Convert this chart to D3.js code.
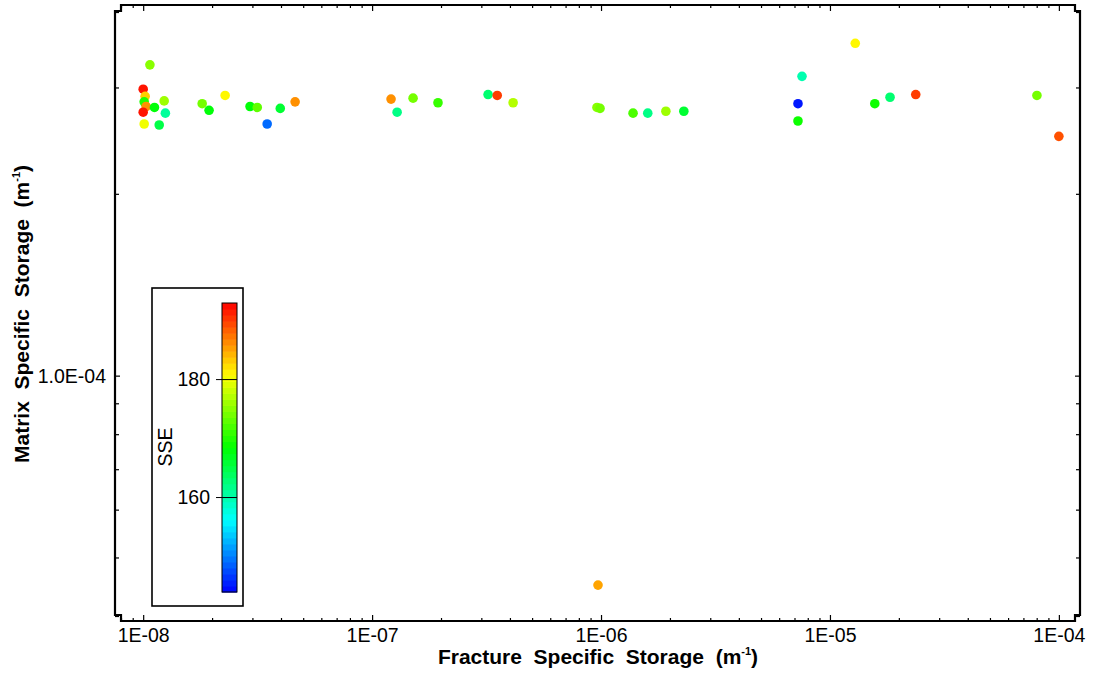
<!DOCTYPE html>
<html>
<head>
<meta charset="utf-8">
<script src="https://cdn.jsdelivr.net/npm/d3@7"></script>
<style>
  html, body { margin: 0; padding: 0; background: #fff; }
  svg { display: block; font-family: "Liberation Sans", Arial, sans-serif; }
</style>
</head>
<body>
<svg id="chart" width="1093" height="674"></svg>
<script>
// ---- data ----
const fractureSS = [1.07e-8, 1.0e-8, 1.02e-8, 1.01e-8, 1.03e-8, 1.12e-8, 1.0e-8, 1.235e-8, 1.25e-8, 1.01e-8, 1.175e-8,
  1.81e-8, 1.94e-8, 2.28e-8, 2.93e-8, 3.15e-8, 3.97e-8, 3.48e-8, 4.61e-8,
  1.21e-7, 1.286e-7, 1.51e-7, 1.94e-7, 3.21e-7, 3.52e-7, 4.13e-7,
  9.6e-7, 9.9e-7, 1.38e-6, 1.60e-6, 1.92e-6, 2.30e-6,
  1.29e-5, 7.55e-6, 7.25e-6, 7.25e-6, 1.57e-5, 1.83e-5, 2.37e-5, 8.02e-5, 1.0e-4, 9.7e-7];
const matrixSS = [3.27e-4, 2.98e-4, 2.90e-4, 2.84e-4, 2.79e-4, 2.78e-4, 2.73e-4, 2.85e-4, 2.72e-4, 2.61e-4, 2.60e-4,
  2.82e-4, 2.75e-4, 2.91e-4, 2.79e-4, 2.78e-4, 2.77e-4, 2.61e-4, 2.84e-4,
  2.87e-4, 2.73e-4, 2.88e-4, 2.83e-4, 2.92e-4, 2.91e-4, 2.83e-4,
  2.78e-4, 2.77e-4, 2.72e-4, 2.72e-4, 2.74e-4, 2.74e-4,
  3.55e-4, 3.13e-4, 2.82e-4, 2.64e-4, 2.82e-4, 2.89e-4, 2.92e-4, 2.91e-4, 2.49e-4, 4.50e-5];
const sse = [175, 192, 183, 170, 186, 168, 192, 176, 161, 180, 165,
  174, 168, 181, 168, 173, 166, 149, 186,
  186, 162, 174, 171, 163, 190, 177,
  175, 174, 172, 162, 176, 166,
  181, 160, 145, 169, 169, 163, 190, 174, 189, 185];

const xDomain = [8e-9, 1.2e-4];
const yDomain = [4e-5, 4e-4];
const sseDomain = [143.9, 192.9];
const sseTicks = [160, 180];
const xMajor = [1e-8, 1e-7, 1e-6, 1e-5, 1e-4];
const xMajorLabels = ["1E-08", "1E-07", "1E-06", "1E-05", "1E-04"];
const yMajor = [1e-4];
const yMajorLabels = ["1.0E-04"];
const xTitle = "Fracture  Specific  Storage  (m";
const yTitle = "Matrix  Specific  Storage  (m";
const legendTitle = "SSE";

// ---- scales ----
const svg = d3.select("#chart");
const x = d3.scaleLog().domain(xDomain).range([121, 1077]);
const y = d3.scaleLog().domain(yDomain).range([616, 12]);
const stops = d3.range(5).map(i => sseDomain[0] + i * (sseDomain[1] - sseDomain[0]) / 4);
const color = d3.scaleLinear().domain(stops)
  .range(["#0000ff", "#00ffff", "#00ff00", "#ffff00", "#ff0000"]).clamp(true);

function logTicks(dom) {
  const out = [];
  for (let k = -10; k <= -3; k++) {
    for (let m = 1; m <= 9; m++) {
      const v = +(m + "e" + k);
      if (v >= dom[0] * 0.999 && v <= dom[1] * 1.001) out.push(v);
    }
  }
  return out;
}
const xTickVals = logTicks(xDomain);
const yTickVals = logTicks(yDomain);
const isMajor = (v, majors) => majors.some(m => Math.abs(v / m - 1) < 1e-6);
const xLabel = v => { const i = xMajor.findIndex(m => Math.abs(v / m - 1) < 1e-6); return i >= 0 ? xMajorLabels[i] : ""; };
const yLabel = v => { const i = yMajor.findIndex(m => Math.abs(v / m - 1) < 1e-6); return i >= 0 ? yMajorLabels[i] : ""; };

// ---- axes ----
function styleAxis(g, majors, majorLen, minorLen, horizontal) {
  g.select(".domain").remove();
  g.selectAll(".tick line").attr("stroke", "#000").attr("stroke-width", 1.2)
    .each(function(d) {
      const len = isMajor(d, majors) ? majorLen : minorLen;
      if (horizontal) d3.select(this).attr("y2", len); else d3.select(this).attr("x2", len);
    });
  g.selectAll(".tick text").attr("fill", "#000").attr("font-size", 19.5);
}

const gB = svg.append("g").attr("transform", "translate(0,621)")
  .call(d3.axisBottom(x).tickValues(xTickVals).tickFormat(xLabel).tickSizeOuter(0));
styleAxis(gB, xMajor, -6, -3, true);
gB.selectAll(".tick text").attr("y", 21).attr("dy", 0);

const gT = svg.append("g").attr("transform", "translate(0,5)")
  .call(d3.axisTop(x).tickValues(xTickVals).tickFormat("").tickSizeOuter(0));
styleAxis(gT, xMajor, 6, 3, true);

const gL = svg.append("g").attr("transform", "translate(115,0)")
  .call(d3.axisLeft(y).tickValues(yTickVals).tickFormat(yLabel).tickSizeOuter(0));
styleAxis(gL, yMajor, 5, 4, false);
gL.selectAll(".tick text").attr("x", -9).attr("dy", "0.35em");

const gR = svg.append("g").attr("transform", "translate(1080,0)")
  .call(d3.axisRight(y).tickValues(yTickVals).tickFormat("").tickSizeOuter(0));
styleAxis(gR, yMajor, -5, -4, false);

// frame with stepped corners
const frame = d3.path();
frame.moveTo(121, 5); frame.lineTo(1075, 5); frame.lineTo(1075, 11); frame.lineTo(1080, 11);
frame.lineTo(1080, 615); frame.lineTo(1075, 615); frame.lineTo(1075, 621); frame.lineTo(121, 621);
frame.lineTo(121, 615); frame.lineTo(115, 615); frame.lineTo(115, 11); frame.lineTo(121, 11); frame.closePath();
svg.append("path").attr("d", frame.toString()).attr("fill", "none")
  .attr("stroke", "#000").attr("stroke-width", 2.2).attr("stroke-linejoin", "miter");

// ---- points ----
const data = fractureSS.map((f, i) => ({ f, m: matrixSS[i], s: sse[i] }));
svg.append("g").selectAll("circle").data(data).join("circle")
  .attr("cx", d => x(d.f)).attr("cy", d => y(d.m)).attr("r", 4.8)
  .attr("fill", d => color(d.s));

// ---- axis titles ----
const xt = svg.append("text").attr("x", 598).attr("y", 664).attr("text-anchor", "middle")
  .attr("font-size", 21).attr("font-weight", "bold").style("white-space", "pre");
xt.append("tspan").text(xTitle);
xt.append("tspan").attr("font-size", 11).attr("dy", -9).text("-1");
xt.append("tspan").attr("dy", 9).text(")");

const yt = svg.append("text").attr("transform", "translate(29,314) rotate(-90)").attr("text-anchor", "middle")
  .attr("font-size", 21).attr("font-weight", "bold").style("white-space", "pre");
yt.append("tspan").text(yTitle);
yt.append("tspan").attr("font-size", 11).attr("dy", -9).text("-1");
yt.append("tspan").attr("dy", 9).text(")");

// ---- colour legend ----
const leg = svg.append("g");
leg.append("rect").attr("x", 152).attr("y", 288).attr("width", 91).attr("height", 318)
  .attr("fill", "#fff").attr("stroke", "#000").attr("stroke-width", 1.6);
const cy = d3.scaleLinear().domain(sseDomain).range([592, 303]);
const nb = 48;
const bands = d3.range(nb).map(i => sseDomain[0] + (i + 0.5) * (sseDomain[1] - sseDomain[0]) / nb);
const bh = (592 - 303) / nb;
leg.append("g").selectAll("rect").data(bands).join("rect")
  .attr("x", 222).attr("width", 15)
  .attr("y", d => cy(d) - bh / 2).attr("height", bh + 0.6)
  .attr("fill", d => color(d));
leg.append("rect").attr("x", 222).attr("y", 303).attr("width", 15).attr("height", 289)
  .attr("fill", "none").attr("stroke", "#000").attr("stroke-width", 1);
const gC = leg.append("g").attr("transform", "translate(237,0)")
  .call(d3.axisLeft(cy).tickValues(sseTicks).tickSize(21).tickFormat(d3.format("d")));
gC.select(".domain").remove();
gC.selectAll(".tick line").attr("stroke", "#000").attr("stroke-width", 1);
gC.selectAll(".tick text").attr("x", -27).attr("dy", "0.35em").attr("font-size", 19.5).attr("fill", "#000");
leg.append("text").attr("transform", "translate(172,447) rotate(-90)").attr("text-anchor", "middle")
  .attr("font-size", 19.5).text(legendTitle);
</script>
</body>
</html>
